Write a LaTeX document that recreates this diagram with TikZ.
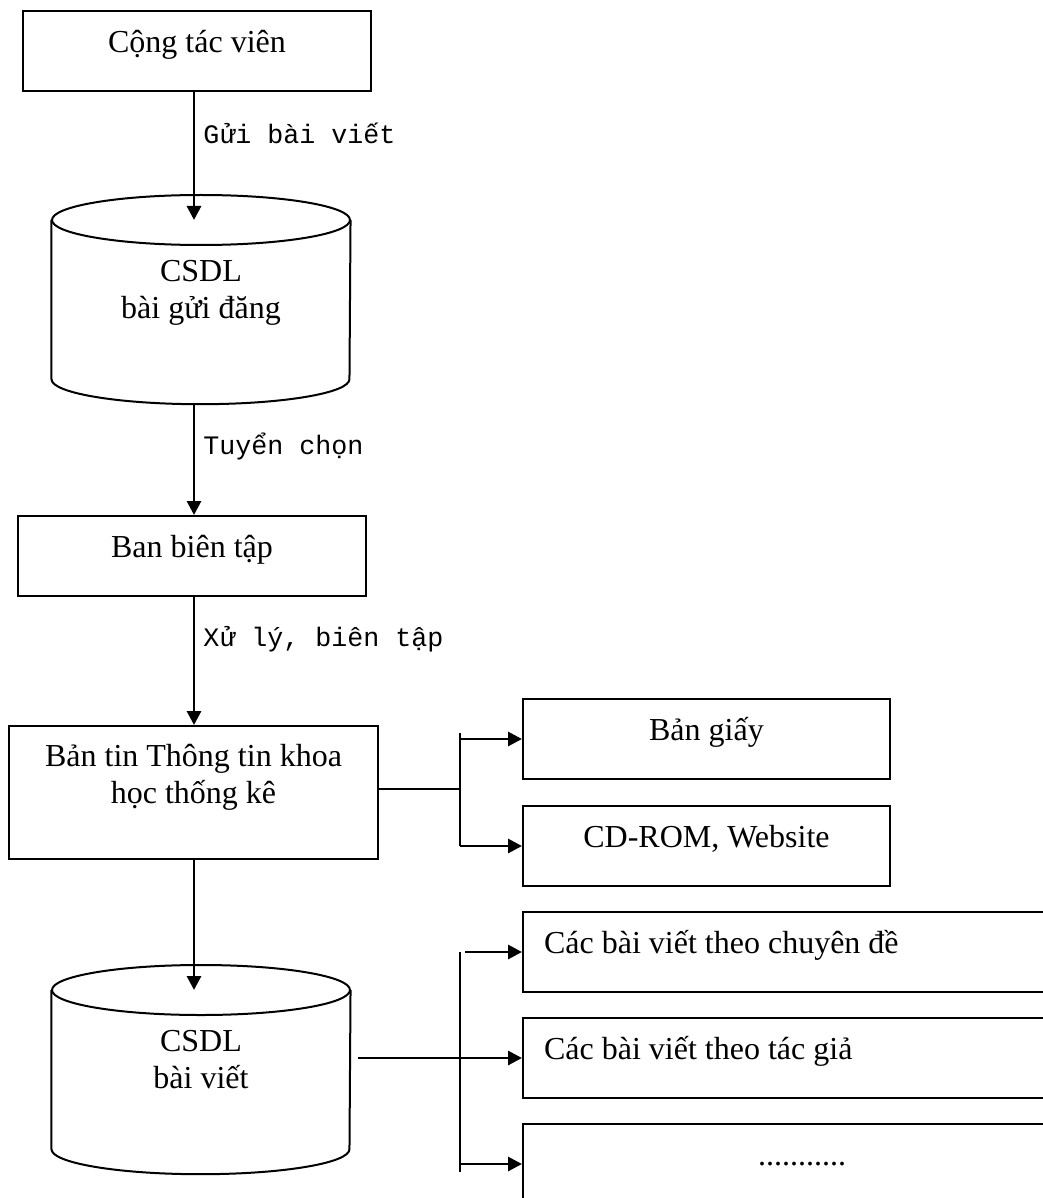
\documentclass[tikz,border=0pt]{standalone}
\usepackage{fontspec}
\setmainfont{Liberation Serif}
\setmonofont{Liberation Mono}
\usetikzlibrary{arrows.meta,calc}

\tikzset{
  box/.style={draw, line width=0.75pt, inner sep=0pt, anchor=north west,
    text height=15.4pt, text depth=14.6pt, font=\fontsize{12pt}{13.9pt}\selectfont},
  midbox/.style={box, minimum width=130.5pt},
  outbox/.style={box, text width=137.6pt, align=flush center},
  listbox/.style={box, inner xsep=7.9pt, text width=193.5pt, align=flush left},
  dbtext/.style={inner sep=0pt, anchor=north, text width=111.75pt, align=flush center,
    text height=22.9pt, text depth=36.4pt, font=\fontsize{12pt}{13.9pt}\selectfont},
  arr/.style={line width=1.1pt, -{Triangle[length=5.25pt,width=5.25pt]}},
  link/.style={line width=0.75pt},
  lbl/.style={anchor=base west, xshift=3pt, inner sep=0pt,
    font=\ttfamily\fontsize{10pt}{12pt}\selectfont},
}

\begin{document}
\begin{tikzpicture}[x=0.375pt,y=-0.375pt]
  \useasboundingbox (0,0) rectangle (1043,1198);
  \clip (0,0) rectangle (1043,1198);
  \coordinate (spine) at (194,0);

  % Cot chinh
  \node[midbox] (tacvien) at (22,10) {Cộng tác viên};
  \node[dbtext] (db1) at (201,220) {CSDL\\bài gửi đăng};
  \draw[link] (db1.north) ellipse [x radius=55.875pt, y radius=9.375pt];
  \draw[link] (db1.north west) -- (db1.south west)
    arc[start angle=180, end angle=360, x radius=55.875pt, y radius=9.375pt] -- (db1.north east);
  \node[midbox] (ban) at (17,515) {Ban biên tập};
  \node[box, text width=138.4pt, align=flush center, text height=15pt, text depth=34.9pt]
    (bantin) at (8,725) {Bản tin Thông tin khoa\\học thống kê};
  \node[dbtext] (db2) at (201,990) {CSDL\\bài viết};
  \draw[link] (db2.north) ellipse [x radius=55.875pt, y radius=9.375pt];
  \draw[link] (db2.north west) -- (db2.south west)
    arc[start angle=180, end angle=360, x radius=55.875pt, y radius=9.375pt] -- (db2.north east);

  \draw[arr] (tacvien.south -| spine) -- node[lbl, pos=0.405] {Gửi bài viết} (db1.north -| spine);
  \draw[arr] ($(db1.south -| spine)+(0,25)$) -- node[lbl, pos=0.45] {Tuyển chọn} (ban.north -| spine);
  \draw[arr] (ban.south -| spine) -- node[lbl, pos=0.39] {Xử lý, biên tập} (bantin.north -| spine);
  \draw[arr] (bantin.south -| spine) -- (db2.north -| spine);

  % Ban phat hanh
  \node[outbox] (bangiay) at (522,698) {Bản giấy};
  \node[outbox] (cdrom) at (522,805) {CD-ROM, Website};
  \coordinate (fork1) at (460,789);
  \draw[link] (bantin.east |- fork1) -- (fork1);
  \draw[link] ($(fork1 |- bangiay.west)+(0,-6)$) -- (fork1 |- cdrom.west);
  \draw[arr] (fork1 |- bangiay.west) -- (bangiay.west);
  \draw[arr] (fork1 |- cdrom.west) -- (cdrom.west);

  % Tra cuu bai viet
  \node[listbox] (chuyende) at (522,911) {Các bài viết theo chuyên đề};
  \node[listbox] (tacgia) at (522,1017) {Các bài viết theo tác giả};
  \node[listbox, align=flush center] (dots) at (522,1123) {...........};
  \coordinate (fork2) at (460,1059);
  \draw[link] (fork2 |- chuyende.west) -- ($(fork2 |- dots.west)+(0,8)$);
  \draw[arr] ($(fork2 |- chuyende.west)+(5,0)$) -- (chuyende.west);
  \draw[arr] ($(db2.east |- tacgia.west)+(7,0)$) -- (tacgia.west);
  \draw[arr] (fork2 |- dots.west) -- (dots.west);
\end{tikzpicture}
\end{document}
